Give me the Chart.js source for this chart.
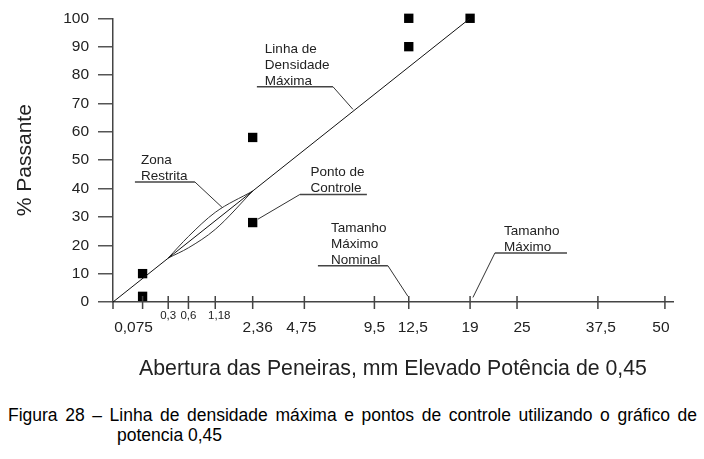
<!DOCTYPE html>
<html>
<head>
<meta charset="utf-8">
<script src="https://cdn.jsdelivr.net/npm/chart.js@4.4.0/dist/chart.umd.min.js"></script>
<style>
	body { margin: 0; background: #fff; }
	#wrap { position: absolute; left: 0; top: 0; width: 704px; height: 395px; }
	#caption {
		position: absolute; left: 8px; top: 405px; width: 689px;
		font: 17.5px "Liberation Sans", Arial, sans-serif;
		line-height: 20px; color: #000;
	}
	#caption .l1 { text-align: justify; text-align-last: justify; }
	#caption .l2 { padding-left: 109px; }
</style>
</head>
<body>
<div id="wrap"><canvas id="chart"></canvas></div>
<div id="caption">
	<div class="l1">Figura 28 – Linha de densidade máxima e pontos de controle utilizando o gráfico de</div>
	<div class="l2">potencia 0,45</div>
</div>
<script>
// x axis is sieve opening (mm) raised to 0.45
const POWER = 0.45;
const pw = (d) => Math.pow(d, POWER);

// sieve ticks and their labels
const sieves = [0.075, 0.3, 0.6, 1.18, 2.36, 4.75, 9.5, 12.5, 19, 25, 37.5, 50];
const sieveLabels = ['0,075', '0,3', '0,6', '1,18', '2,36', '4,75', '9,5', '12,5', '19', '25', '37,5', '50'];
const smallLabels = ['0,3', '0,6', '1,18'];
const labelShift = { '0,075': -9, '2,36': 5, '1,18': 4, '12,5': 4, '25': 5, '37,5': 3, '50': -4, '4,75': -3 };

// maximum density line (0 -> 19 mm)
const maxLineSieves = [0, 19];
const maxLinePass = [0, 100];

// restricted zone
const zoneSieves = [0.3, 0.6, 1.18, 2.36];
const zoneUpper = [15.5, 23.1, 31.6, 39.1];
const zoneLower = [15.5, 19.1, 25.6, 39.1];

// control points
const ctrlSieves = [0.075, 0.075, 2.36, 2.36, 12.5, 12.5, 19];
const ctrlPass = [2, 10, 28, 58, 90, 100, 100];

// callouts, x in axis units (mm^0.45), y in %
const callouts = [
	{ lines: ['Linha de', 'Densidade', 'Máxima'], textX: 1.600, lineY: 75.9, x1: 1.516, x2: 2.317, fromEnd: true, toX: 2.528, toY: 67.9 },
	{ lines: ['Zona', 'Restrita'], textX: 0.294, lineY: 42.3, x1: 0.231, x2: 0.863, fromEnd: true, toX: 1.148, toY: 33.4 },
	{ lines: ['Ponto de', 'Controle'], textX: 2.080, lineY: 37.9, x1: 1.969, x2: 2.675, fromEnd: false, toX: 1.527, toY: 29.2 },
	{ lines: ['Tamanho', 'Máximo', 'Nominal'], textX: 2.296, lineY: 12.8, x1: 2.159, x2: 2.896, fromEnd: true, toX: 3.107, toY: 2.0 },
	{ lines: ['Tamanho', 'Máximo'], textX: 4.119, lineY: 17.3, x1: 4.024, x2: 4.783, fromEnd: false, toX: 3.792, toY: 1.6 }
];

const toXY = (xs, ys) => xs.map((d, i) => ({ x: pw(d), y: ys[i] }));

const FONT = '"Liberation Sans", Arial, sans-serif';

const extrasPlugin = {
	id: 'extras',
	afterDraw(chart) {
		const { ctx } = chart;
		const x = chart.scales.x;
		const y = chart.scales.y;
		const y0 = y.getPixelForValue(0);
		ctx.save();
		// x ticks (through the axis) and labels
		ctx.strokeStyle = '#444';
		ctx.lineWidth = 1.5;
		ctx.beginPath();
		const ox = x.getPixelForValue(0);
		ctx.moveTo(ox, y0);
		ctx.lineTo(ox, y0 + 7);
		sieves.forEach((d) => {
			const px = x.getPixelForValue(pw(d));
			ctx.moveTo(px, y0 - 6);
			ctx.lineTo(px, y0 + 7);
		});
		ctx.stroke();
		ctx.fillStyle = '#222';
		ctx.textAlign = 'center';
		ctx.textBaseline = 'middle';
		sieves.forEach((d, i) => {
			const lab = sieveLabels[i];
			const px = x.getPixelForValue(pw(d)) + (labelShift[lab] || 0);
			if (smallLabels.includes(lab)) {
				ctx.font = '11.5px ' + FONT;
				ctx.fillText(lab, px, y0 + 14);
			} else {
				ctx.font = '15.5px ' + FONT;
				ctx.fillText(lab, px, y0 + 26);
			}
		});
		// callouts
		ctx.font = '13.5px ' + FONT;
		ctx.textAlign = 'left';
		ctx.textBaseline = 'alphabetic';
		callouts.forEach((c) => {
			const ly = y.getPixelForValue(c.lineY);
			const tx = x.getPixelForValue(c.textX);
			c.lines.forEach((t, i) => {
				ctx.fillText(t, tx, ly - 2 - (c.lines.length - 1 - i) * 16);
			});
			const ax = x.getPixelForValue(c.x1);
			const bx = x.getPixelForValue(c.x2);
			ctx.strokeStyle = '#444';
			ctx.lineWidth = 1.5;
			ctx.beginPath();
			ctx.moveTo(ax, ly);
			ctx.lineTo(bx, ly);
			ctx.stroke();
			ctx.strokeStyle = '#333';
			ctx.lineWidth = 1;
			ctx.beginPath();
			ctx.moveTo(c.fromEnd ? bx : ax, ly);
			ctx.lineTo(x.getPixelForValue(c.toX), y.getPixelForValue(c.toY));
			ctx.stroke();
		});
		ctx.restore();
	}
};

const lineStyle = { showLine: true, pointRadius: 0, borderWidth: 1, fill: false, clip: false };

new Chart(document.getElementById('chart'), {
	type: 'scatter',
	data: {
		datasets: [
			{ ...lineStyle, data: toXY(maxLineSieves, maxLinePass), borderColor: '#111' },
			{ ...lineStyle, data: toXY(zoneSieves, zoneUpper), borderColor: '#333', cubicInterpolationMode: 'monotone' },
			{ ...lineStyle, data: toXY(zoneSieves, zoneLower), borderColor: '#333', cubicInterpolationMode: 'monotone' },
			{
				data: toXY(ctrlSieves, ctrlPass),
				pointStyle: 'rect',
				pointRadius: 6.6,
				backgroundColor: '#000',
				borderWidth: 0,
				clip: false
			}
		]
	},
	options: {
		responsive: true,
		maintainAspectRatio: false,
		animation: false,
		layout: { padding: { top: 15, right: 31, left: 0, bottom: 0 } },
		plugins: { legend: { display: false }, tooltip: { enabled: false } },
		scales: {
			x: {
				type: 'linear',
				min: 0,
				max: 5.9,
				grid: { display: false },
				ticks: { display: false },
				border: { color: '#444', width: 1.5 },
				title: {
					display: true,
					text: 'Abertura das Peneiras, mm Elevado Potência de 0,45',
					color: '#222',
					font: { family: FONT, size: 21.3 },
					padding: { top: 0, bottom: 13 }
				},
				afterFit: (s) => { s.height = 93; }
			},
			y: {
				min: 0,
				max: 100,
				ticks: {
					stepSize: 10,
					padding: 9,
					color: '#222',
					font: { family: FONT, size: 15.5 }
				},
				grid: { drawOnChartArea: false, tickLength: 15, color: '#555', lineWidth: 1.5 },
				border: { color: '#444', width: 1.5 },
				title: {
					display: true,
					text: '% Passante',
					color: '#222',
					font: { family: FONT, size: 21 },
					padding: { top: 13, bottom: 0 }
				},
				afterFit: (s) => { s.width = 113; }
			}
		}
	},
	plugins: [extrasPlugin]
});
</script>
</body>
</html>
